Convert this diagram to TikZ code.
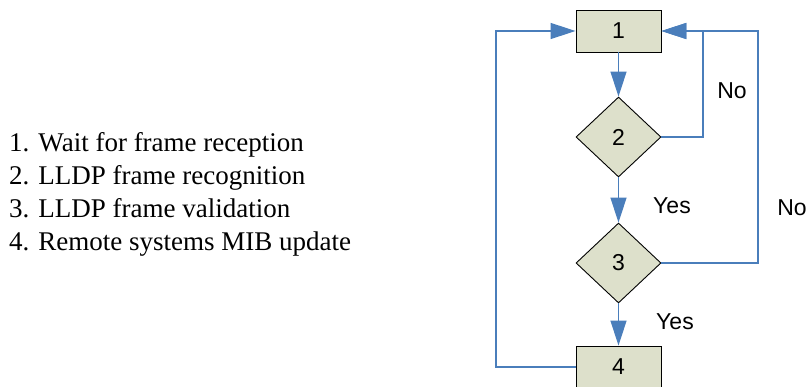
\documentclass[tikz,border=0pt]{standalone}
\usepackage{fontspec}
\setmainfont{Liberation Serif}
\newfontfamily\legendfont{Liberation Serif}
\newfontfamily\labelfont{Liberation Sans}
\usetikzlibrary{shapes.geometric,arrows.meta}
\definecolor{flowblue}{HTML}{4A7EBB}
\definecolor{stepfill}{HTML}{DDE0CB}
\tikzset{
  stepbox/.style={draw=black, line width=0.9pt, fill=stepfill, minimum width=85pt,
    minimum height=42pt, inner sep=0pt, font=\labelfont\fontsize{23}{23}\selectfont},
  decision/.style={diamond, draw=black, line width=0.9pt, fill=stepfill, minimum width=85pt,
    minimum height=80pt, inner sep=0pt, font=\labelfont\fontsize{23}{23}\selectfont},
  flow/.style={draw=flowblue, line width=1.3pt},
  flowarrow/.style={flow, -{Triangle[length=25pt,width=16pt]}},
  answer/.style={font=\labelfont\fontsize{23}{23}\selectfont, inner sep=0pt},
  legendline/.style={anchor=base west, inner sep=0pt, font=\legendfont\fontsize{27}{27}\selectfont}
}
\begin{document}
\begin{tikzpicture}[x=1pt,y=-1pt]
\clip (0,0) rectangle (808,387);
\useasboundingbox (0,0) rectangle (808,387);

% legend
\node[legendline] (l1) at (9,152) {1. Wait for frame reception};
\node[legendline] (l2) at (9,185) {2. LLDP frame recognition};
\node[legendline] (l3) at (9,218) {3. LLDP frame validation};
\node[legendline] (l4) at (9,251) {4. Remote systems MIB update};

% flow steps
\node[stepbox]  (b1) at (618.5,31)  {1};
\node[decision] (d2) at (618.5,137) {2};
\node[decision] (d3) at (618.5,263) {3};
\node[stepbox]  (b4) at (618.5,367) {4};

% return-path corners
\coordinate (c2) at (703,31);
\coordinate (c3) at (758,31);
\coordinate (c4) at (496,31);

% connectors
\draw[flowarrow] (b1.south) -- (d2.north);
\draw[flowarrow] (d2.south) -- (d3.north);
\draw[flowarrow] (d3.south) -- (b4.north);
\draw[flowarrow] (d2.east) -| (c2) -- (b1.east);
\draw[flowarrow] (d3.east) -| (c3) -- (b1.east);
\draw[flowarrow] (b4.west) -| (c4) -- (b1.west);

% branch labels
\node[answer] (no2)  at (732,91)  {No};
\node[answer] (no3)  at (792,208) {No};
\node[answer] (yes2) at (672,206) {Yes};
\node[answer] (yes3) at (675,322) {Yes};
\end{tikzpicture}
\end{document}
